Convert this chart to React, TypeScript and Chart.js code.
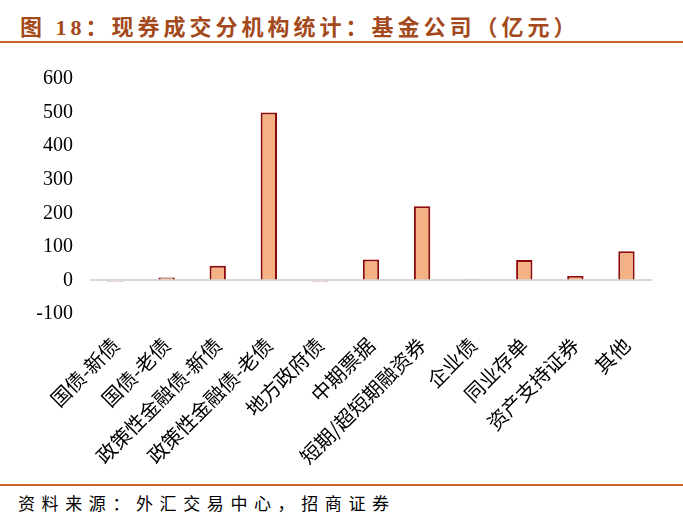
import { useEffect, useRef } from 'react';
import Chart from 'chart.js/auto';

const categories = [
    '国债-新债', '国债-老债', '政策性金融债-新债', '政策性金融债-老债', '地方政府债',
    '中期票据', '短期/超短期融资券', '企业债', '同业存单', '资产支持证券', '其他'
];
const values = [-2, 9, 44, 500, -5, 62, 221, 2, 61, 13, 87];
const yTicks = [-100, 0, 100, 200, 300, 400, 500, 600];

const App = () => {
    const chartRef = useRef<HTMLCanvasElement | null>(null);

    useEffect(() => {
        document.body.style.margin = '0';
        const ctx = chartRef.current!.getContext('2d')!;
        const chart = new Chart(ctx, {
            type: 'bar',
            data: {
                labels: categories,
                datasets: [{
                    data: values,
                    backgroundColor: '#F4B183',
                    borderColor: '#8B0A0A',
                    borderWidth: 2,
                    barPercentage: 0.32,
                    categoryPercentage: 1
                }]
            },
            options: {
                responsive: false,
                animation: false,
                layout: { padding: { top: 26, right: 31, left: 0, bottom: 0 } },
                plugins: {
                    legend: { display: false },
                    tooltip: { enabled: false }
                },
                scales: {
                    x: {
                        grid: { display: false },
                        border: { display: false },
                        ticks: {
                            color: '#000',
                            maxRotation: 45,
                            minRotation: 45,
                            autoSkip: false,
                            padding: 11,
                            font: { family: '"Noto Sans CJK SC"', size: 20 }
                        },
                        afterFit: (scale: any) => { scale.height = 166; }
                    },
                    y: {
                        min: -100,
                        max: 600,
                        afterBuildTicks: (scale: any) => { scale.ticks = yTicks.map(v => ({ value: v })); },
                        border: { display: false },
                        grid: {
                            drawTicks: false,
                            lineWidth: 2,
                            color: (c: any) => (c.tick && c.tick.value === 0 ? '#D9D9D9' : 'rgba(0,0,0,0)')
                        },
                        ticks: {
                            color: '#000',
                            padding: 17,
                            font: { family: '"Liberation Serif"', size: 20 }
                        },
                        afterFit: (scale: any) => { scale.width = 90; }
                    }
                }
            }
        });

        return () => {
            chart.destroy();
        };
    }, []);

    return (
        <div style={{ position: 'relative', width: 683, height: 527, background: '#fff' }}>
            <div style={{
                position: 'absolute', left: 20, top: 9, fontFamily: '"Liberation Serif", "Noto Sans CJK SC"',
                fontWeight: 'bold', fontSize: 22, letterSpacing: 4, color: '#A3491B', whiteSpace: 'nowrap'
            }}>
                图 18：现券成交分机构统计：基金公司（亿元）
            </div>
            <div style={{ position: 'absolute', left: 0, top: 41, width: 683, height: 2, background: '#C8642A' }} />
            <canvas ref={chartRef} width={683} height={430} style={{ position: 'absolute', left: 0, top: 50 }} />
            <div style={{ position: 'absolute', left: 0, top: 484, width: 683, height: 2, background: '#C8642A' }} />
            <div style={{
                position: 'absolute', left: 18, top: 490, fontFamily: '"Noto Sans CJK SC"',
                fontSize: 17, letterSpacing: 6.6, color: '#000', whiteSpace: 'nowrap'
            }}>
                资料来源：外汇交易中心，招商证券
            </div>
        </div>
    );
};

export default App;
